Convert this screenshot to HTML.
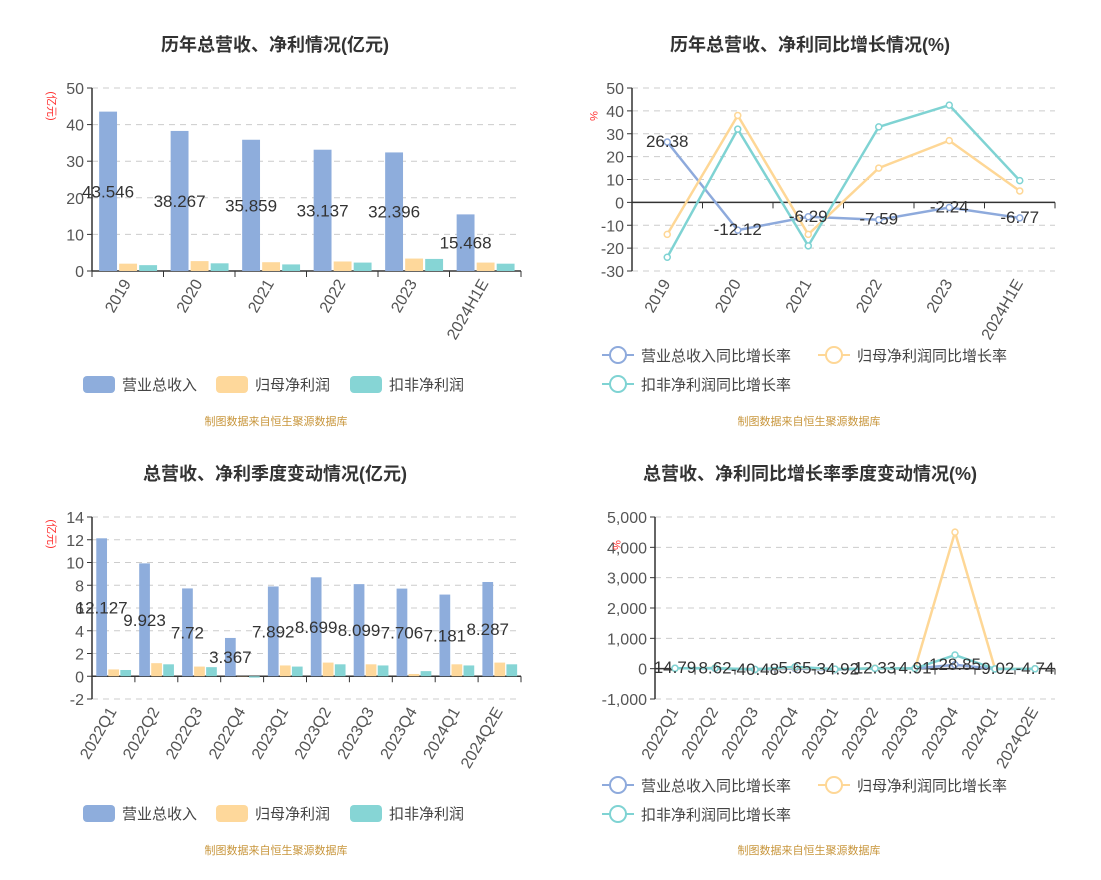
<!DOCTYPE html>
<html><head><meta charset="utf-8">
<style>
body{margin:0;background:#fff;width:1101px;height:875px;overflow:hidden;font-family:"Liberation Sans","Noto Sans CJK SC",sans-serif;}
svg text{font-family:"Liberation Sans","Noto Sans CJK SC",sans-serif;}
</style></head>
<body>
<svg id="root" width="1101" height="875" xmlns="http://www.w3.org/2000/svg">
<rect width="1101" height="875" fill="#fff"/>
<text x="275" y="51" text-anchor="middle" font-size="18" font-weight="bold" fill="#333">历年总营收、净利情况(亿元)</text>
<text x="810" y="51" text-anchor="middle" font-size="18" font-weight="bold" fill="#333">历年总营收、净利同比增长情况(%)</text>
<text x="275" y="480" text-anchor="middle" font-size="18" font-weight="bold" fill="#333">总营收、净利季度变动情况(亿元)</text>
<text x="810" y="480" text-anchor="middle" font-size="18" font-weight="bold" fill="#333">总营收、净利同比增长率季度变动情况(%)</text>
<text x="276" y="425" text-anchor="middle" font-size="11" fill="#c8963c">制图数据来自恒生聚源数据库</text>
<text x="809" y="425" text-anchor="middle" font-size="11" fill="#c8963c">制图数据来自恒生聚源数据库</text>
<text x="276" y="854" text-anchor="middle" font-size="11" fill="#c8963c">制图数据来自恒生聚源数据库</text>
<text x="809" y="854" text-anchor="middle" font-size="11" fill="#c8963c">制图数据来自恒生聚源数据库</text>
</svg>
<script>
const yearCats=["2019","2020","2021","2022","2023","2024H1E"];
const yearRevenue=[43.546,38.267,35.859,33.137,32.396,15.468];
const yearProfit=[2.0,2.7,2.4,2.6,3.4,2.3];
const yearDeducted=[1.6,2.1,1.8,2.3,3.3,2.0];
const yearTicks=[0,10,20,30,40,50];

const yoyRevenue=[26.38,-12.12,-6.29,-7.59,-2.24,-6.77];
const yoyProfit=[-14,38,-14,15,27,5];
const yoyDeducted=[-24,32,-19,33,42.5,9.5];
const yoyTicks=[-30,-20,-10,0,10,20,30,40,50];

const qCats=["2022Q1","2022Q2","2022Q3","2022Q4","2023Q1","2023Q2","2023Q3","2023Q4","2024Q1","2024Q2E"];
const qRevenue=[12.127,9.923,7.72,3.367,7.892,8.699,8.099,7.706,7.181,8.287];
const qProfit=[0.6,1.15,0.85,0.02,0.95,1.2,1.05,0.2,1.05,1.2];
const qDeducted=[0.55,1.05,0.8,-0.12,0.85,1.05,0.95,0.45,0.95,1.05];
const qTicks=[-2,0,2,4,6,8,10,12,14];

const qyRevenue=[14.79,8.62,-40.48,5.65,-34.92,12.33,4.91,128.85,-9.02,-4.74];
const qyProfit=[10,20,-30,40,-20,15,5,4500,-5,-3];
const qyDeducted=[12,18,-25,60,-15,10,8,450,-8,-4];
const qyTicks=[-1000,0,1000,2000,3000,4000,5000];
const qyTickLabels=["-1,000","0","1,000","2,000","3,000","4,000","5,000"];

const NS="http://www.w3.org/2000/svg";
const root=document.getElementById('root');
function mk(tag,attrs,parent){const e=document.createElementNS(NS,tag);for(const k in attrs)e.setAttribute(k,attrs[k]);(parent||root).appendChild(e);return e;}
const C={blue:"#8eaddc",orange:"#fed89b",teal:"#86d5d5"};

function axes(g,x0,x1,yTop,yBot,ticks,labels,cats,zeroVal,vmin,vmax){
  const ys=v=>yBot-(v-vmin)/(vmax-vmin)*(yBot-yTop);
  ticks.forEach((t,i)=>{
    const y=ys(t);
    if(t!==zeroVal){const gl=mk('line',{x1:x0,x2:x1,y1:y,y2:y,stroke:"#ccc","stroke-dasharray":"6,5"},g);
    }
    const tl=mk('text',{x:x0-8,y:y+6,"text-anchor":"end","font-size":"16",fill:"#555"},g);
    
    tl.textContent=labels?labels[i]:t;
    mk('line',{x1:x0-5,x2:x0,y1:y,y2:y,stroke:"#333"},g);
  });
  const ya=mk('line',{x1:x0,x2:x0,y1:yTop,y2:yBot,stroke:"#333","stroke-width":1.5},g);
  
  const zy=ys(zeroVal);
  const xa=mk('line',{x1:x0,x2:x1,y1:zy,y2:zy,stroke:"#333","stroke-width":1.5},g);
  
  const bw=(x1-x0)/cats.length;
  for(let i=0;i<=cats.length;i++)mk('line',{x1:x0+i*bw,x2:x0+i*bw,y1:zy,y2:zy+6,stroke:"#333"},g);
  cats.forEach((c,i)=>{
    const cx=x0+bw*(i+0.5), cy=Math.max(zy,ys(ticks[0]))+10;
    const t=mk('text',{x:cx,y:cy,"text-anchor":"end","font-size":"16",fill:"#555",transform:`rotate(-60 ${cx} ${cy})`,"dominant-baseline":"middle"},g);
    
    t.textContent=c;
  });
  return {ys,bw};
}
function barChart(name,x0,x1,yTop,yBot,ticks,cats,series,vmin,vmax){
  const g=mk('g',{});
  const {ys,bw}=axes(g,x0,x1,yTop,yBot,ticks,null,cats,0,vmin,vmax);
  const barW=bw*0.25, gap=bw*0.03;
  const cols=[C.blue,C.orange,C.teal];
  series.forEach((s,si)=>{
    s.forEach((v,i)=>{
      const bx=x0+bw*i+bw*0.1+si*(barW+gap);
      const y0=ys(0),y1=ys(v);
      const r=mk('rect',{x:bx,y:Math.min(y0,y1),width:barW,height:Math.abs(y1-y0),fill:cols[si]},g);
      
    });
  });
  series[0].forEach((v,i)=>{
    const bx=x0+bw*i+bw*0.1+barW/2;
    const t=mk('text',{x:bx,y:(ys(0)+ys(v))/2+6,"text-anchor":"middle","font-size":"17",fill:"#333"},g);
    
    t.textContent=v;
  });
}
function lineChart(name,x0,x1,yTop,yBot,ticks,labels,cats,series,vmin,vmax,labelVals){
  const g=mk('g',{});
  const {ys,bw}=axes(g,x0,x1,yTop,yBot,ticks,labels,cats,0,vmin,vmax);
  const cols=["#8eaadc","#fed796","#7fd3d3"];
  [0,1,2].forEach(si=>{
    const s=series[si];
    const pts=s.map((v,i)=>[x0+bw*(i+0.5),ys(v)]);
    const p=mk('polyline',{points:pts.map(p=>p.join(',')).join(' '),fill:"none",stroke:cols[si],"stroke-width":2.5},g);
    
    pts.forEach(pt=>{const c=mk('circle',{cx:pt[0],cy:pt[1],r:3,fill:"#fff",stroke:cols[si],"stroke-width":1.5},g);
      });
  });
  labelVals.forEach((v,i)=>{
    const t=mk('text',{x:x0+bw*(i+0.5),y:ys(series[0][i])+5,"text-anchor":"middle","font-size":"17",fill:"#333"},g);
    
    t.textContent=v;
  });
}
function barLegend(y){
  const names=["营业总收入","归母净利润","扣非净利润"],cols=[C.blue,C.orange,C.teal],xs=[83,216,350];
  names.forEach((n,i)=>{
    const r=mk('rect',{x:xs[i],y:y-8,width:32,height:17,rx:4,fill:cols[i]});
    
    const t=mk('text',{x:xs[i]+39,y:y+6,"font-size":"15",fill:"#444"});
    t.textContent=n;
  });
}
function lineLegend(y1,y2){
  const items=[["营业总收入同比增长率","#8eaadc",602,y1],["归母净利润同比增长率","#fed796",818,y1],["扣非净利润同比增长率","#7fd3d3",602,y2]];
  items.forEach(([n,c,x,y])=>{
    mk('line',{x1:x,x2:x+32,y1:y,y2:y,stroke:c,"stroke-width":2});
    const ci=mk('circle',{cx:x+16,cy:y,r:8,fill:"#fff",stroke:c,"stroke-width":2});
    
    const t=mk('text',{x:x+39,y:y+6,"font-size":"15",fill:"#444"});
    t.textContent=n;
  });
}
function unit(x,y,txt,rot){
  const t=mk('text',{x:x,y:y,"font-size":"11",fill:"#f33","text-anchor":"middle",transform:rot?`rotate(90 ${x} ${y})`:""});
  t.textContent=txt;
}
barChart('annual-bar-chart',92,521,88,271,yearTicks,yearCats,[yearRevenue,yearProfit,yearDeducted],0,50);
lineChart('annual-yoy-chart',632,1055,88,271,yoyTicks,null,yearCats,[yoyRevenue,yoyProfit,yoyDeducted],-30,50,yoyRevenue);
barChart('quarterly-bar-chart',92,521,517,699,qTicks,qCats,[qRevenue,qProfit,qDeducted],-2,14);
lineChart('quarterly-yoy-chart',655,1055,517,699,qyTicks,qyTickLabels,qCats,[qyRevenue,qyProfit,qyDeducted],-1000,5000,qyRevenue);
unit(48,106,"(亿元)",true);unit(48,534,"(亿元)",true);
unit(590,116,"%",true);unit(613,545,"%",true);
barLegend(384);barLegend(813);
lineLegend(355,384);lineLegend(785,814);
</script>
</body></html>
